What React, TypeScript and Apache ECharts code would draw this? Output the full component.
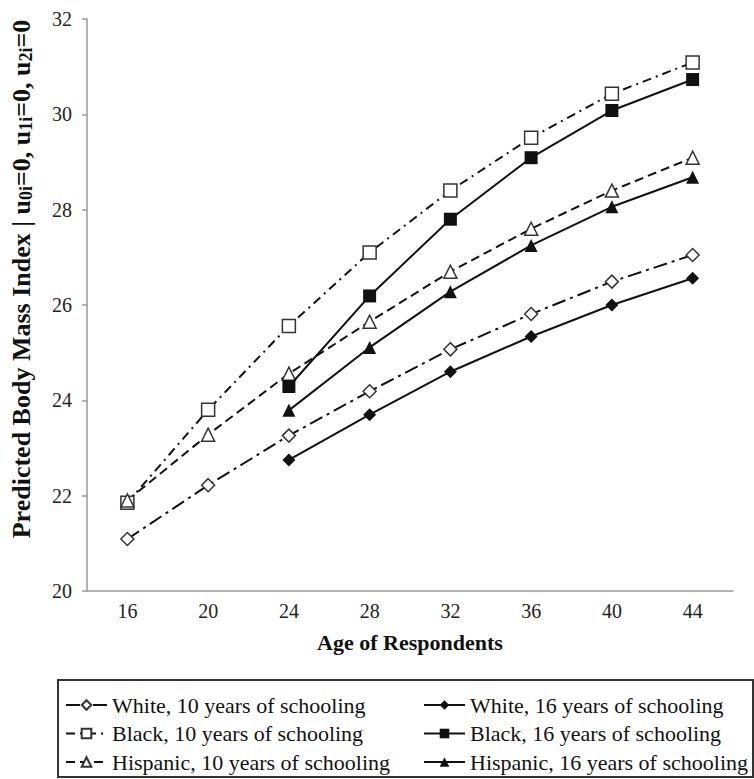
import React, { useEffect, useRef } from "react";
import * as echarts from "echarts";

const ages = ["16", "20", "24", "28", "32", "36", "40", "44"];
const white10 = [21.09, 22.22, 23.26, 24.19, 25.07, 25.81, 26.49, 27.05];
const white16 = [null, null, 22.75, 23.7, 24.6, 25.34, 26.0, 26.56];
const black10 = [21.85, 23.8, 25.56, 27.1, 28.4, 29.51, 30.43, 31.09];
const black16 = [null, null, 24.29, 26.19, 27.8, 29.09, 30.08, 30.73];
const hisp10 = [21.9, 23.28, 24.56, 25.65, 26.7, 27.6, 28.4, 29.09];
const hisp16 = [null, null, 23.79, 25.11, 26.28, 27.25, 28.06, 28.68];

const names = [
  "White, 10 years of schooling",
  "White, 16 years of schooling",
  "Black, 10 years of schooling",
  "Black, 16 years of schooling",
  "Hispanic, 10 years of schooling",
  "Hispanic, 16 years of schooling",
];

const yTitle = "{m|Predicted Body Mass Index | u}{s|0i}{m|=0, u}{s|1i}{m|=0, u}{s|2i}{m|=0}";

const FONT = "'Liberation Serif', 'Times New Roman', serif";
const INK = "#111";

function hollow(name: string, data: (number | null)[], symbol: string, size: number, dash: number[]) {
  return {
    name,
    type: "line",
    data,
    symbol,
    symbolSize: size,
    lineStyle: { color: INK, width: 2, type: dash },
    itemStyle: { color: "#fff", borderColor: "#333", borderWidth: 1.5 },
    z: 3,
  };
}

function filled(name: string, data: (number | null)[], symbol: string, size: number) {
  return {
    name,
    type: "line",
    data,
    symbol,
    symbolSize: size,
    lineStyle: { color: INK, width: 2, type: "solid" },
    itemStyle: { color: INK, borderColor: INK, borderWidth: 0 },
    z: 4,
  };
}

export default function App() {
  const ref = useRef<HTMLDivElement>(null);
  useEffect(() => {
    if (!ref.current) return;
    const chart = echarts.init(ref.current, undefined, { renderer: "svg" });
    const legendCommon = {
      orient: "vertical",
      itemWidth: 41,
      itemHeight: 12,
      itemGap: 0.5,
      top: 691,
      padding: 0,
      textStyle: { fontFamily: FONT, fontSize: 22, color: "#111", lineHeight: 28 },
      selectedMode: false,
    };
    chart.setOption({
      animation: false,
      backgroundColor: "#fff",
      grid: { left: 87, right: 21, top: 19, bottom: 188, containLabel: false },
      xAxis: {
        type: "category",
        data: ages,
        boundaryGap: true,
        axisLine: { lineStyle: { color: "#9a9a9a", width: 1.5 } },
        axisTick: { show: false },
        axisLabel: { fontFamily: FONT, fontSize: 20, color: "#222", margin: 10 },
        name: "Age of Respondents",
        nameLocation: "middle",
        nameGap: 40,
        nameTextStyle: { fontFamily: FONT, fontSize: 22, fontWeight: "bold", color: "#111" },
      },
      yAxis: {
        type: "value",
        min: 20,
        max: 32,
        interval: 2,
        splitLine: { show: false },
        axisLine: { show: true, lineStyle: { color: "#9a9a9a", width: 1.5 } },
        axisTick: { show: true, length: 5, lineStyle: { color: "#9a9a9a", width: 1.5 } },
        axisLabel: { fontFamily: FONT, fontSize: 20, color: "#222", margin: 15 },
      },
      legend: [
        { ...legendCommon, left: 65, data: [names[0], names[2], names[4]] },
        { ...legendCommon, left: 423, data: [names[1], names[3], names[5]] },
      ],
      graphic: [
        {
          type: "rect",
          shape: { x: 58, y: 680, width: 695, height: 97 },
          style: { fill: "none", stroke: "#333", lineWidth: 2 },
          silent: true,
        },
        {
          type: "text",
          x: 20,
          y: 279,
          rotation: Math.PI / 2,
          silent: true,
          style: {
            text: yTitle,
            align: "center",
            verticalAlign: "middle",
            fill: "#111",
            font: "bold 26px " + FONT,
            rich: {
              m: { fontFamily: FONT, fontSize: 26, fontWeight: "bold", fill: "#111", lineHeight: 29, verticalAlign: "bottom" },
              s: { fontFamily: FONT, fontSize: 18, fontWeight: "bold", fill: "#111", lineHeight: 16, verticalAlign: "bottom" },
            },
          },
        },
      ],
      series: [
        hollow(names[0], white10, "diamond", 13, [14, 5, 3, 5]),
        filled(names[1], white16, "diamond", 13),
        hollow(names[2], black10, "rect", 13, [9, 5, 2, 5]),
        filled(names[3], black16, "rect", 13),
        hollow(names[4], hisp10, "triangle", 13, [9, 5]),
        filled(names[5], hisp16, "triangle", 13),
      ],
    });
    return () => chart.dispose();
  }, []);
  return (
    <div
      ref={ref}
      style={{ position: "fixed", left: 0, top: 0, width: 754, height: 779, background: "#fff" }}
    />
  );
}
